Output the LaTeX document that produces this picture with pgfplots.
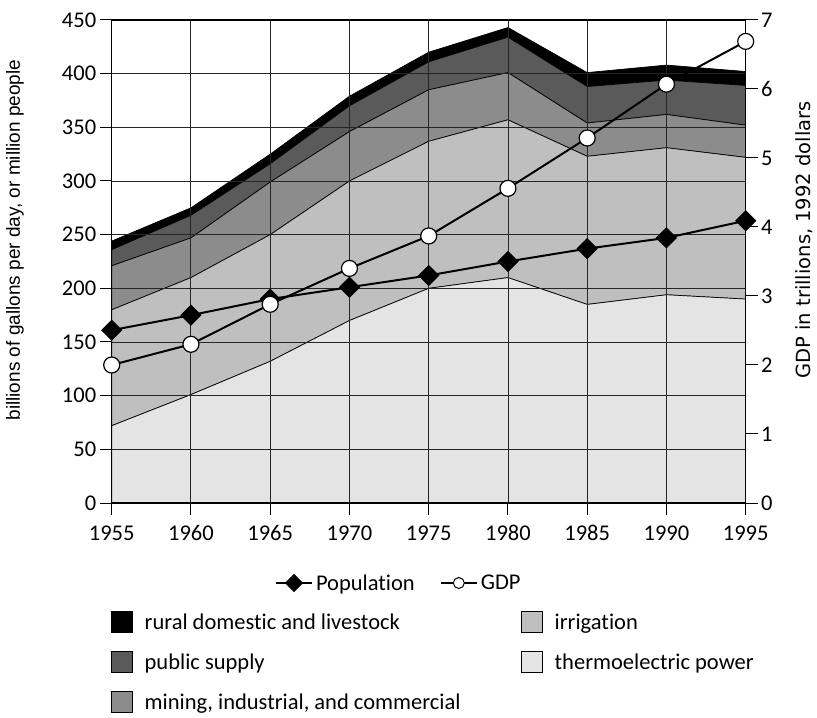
\documentclass[border=0pt]{standalone}
\usepackage{fontspec}
\setmainfont{Carlito}[Ligatures=NoCommon]
\newfontfamily\libsans{Liberation Sans}
\newfontfamily\dejavu{DejaVu Sans}
\usepackage{pgfplots}
\pgfplotsset{compat=1.18}
\definecolor{cThermo}{HTML}{E4E4E4}
\definecolor{cIrr}{HTML}{BFBFBF}
\definecolor{cMin}{HTML}{8C8C8C}
\definecolor{cPub}{HTML}{5A5A5A}
\definecolor{cRur}{HTML}{000000}
\pgfplotsset{
  base/.style={scale only axis, width=634bp, height=483bp, at={(0,0)}, anchor=south west,
    xmin=1955, xmax=1995,
    font=\fontsize{22.5bp}{27bp}\selectfont,
    /pgf/number format/assume math mode=true,
    /pgf/number format/1000 sep={},
  },
  legbox/.style={base, hide axis, ymin=0, ymax=1,
    legend cell align=left,
    legend style={draw=none, fill=none, inner sep=0pt, outer sep=0pt, row sep=0pt,
      font=\fontsize{22.5bp}{27bp}\selectfont,
      nodes={inner ysep=0pt, inner xsep=12bp, minimum height=40bp}},
    legend image code/.code={\draw[#1, line width=1bp] (0bp,-10.5bp) rectangle (21bp,10.5bp);},
  },
}
\begin{document}
\begin{tikzpicture}
\path[use as bounding box] (-111.7bp,-215bp) rectangle (705.3bp,503bp);
% stacked areas, left axis
\begin{axis}[base, ymin=0, ymax=450,
  xtick={1955,1960,...,1995}, ytick={0,50,...,450},
  tick pos=left, tick align=outside, major tick length=12bp,
  grid=major, grid style={draw=black!85, line width=0.9bp},
  axis on top,
  axis line style={line width=1.2bp},
  tick style={line width=1bp, black},
  xticklabel style={yshift=-7bp},
  stack plots=y,
  ylabel={\libsans\fontsize{19bp}{23bp}\selectfont billions of gallons per day, or million people},
  ylabel style={at={(axis description cs:-0.1525,0.5445)}, anchor=center},
]
\addplot[fill=cThermo, draw=black, line width=0.7bp] coordinates {
(1955,72) (1960,101) (1965,132) (1970,170) (1975,200) (1980,210) (1985,185) (1990,194) (1995,190)} \closedcycle;
\addplot[fill=cIrr, draw=black, line width=0.7bp] coordinates {
(1955,108) (1960,109) (1965,118) (1970,130) (1975,137) (1980,147) (1985,138) (1990,137) (1995,132)} \closedcycle;
\addplot[fill=cMin, draw=black, line width=0.7bp] coordinates {
(1955,41) (1960,37) (1965,49) (1970,46) (1975,48) (1980,44) (1985,31) (1990,31) (1995,30)} \closedcycle;
\addplot[fill=cPub, draw=black, line width=0.7bp] coordinates {
(1955,15) (1960,21) (1965,17) (1970,24) (1975,26) (1980,33) (1985,34) (1990,32) (1995,37)} \closedcycle;
\addplot[fill=cRur, draw=black, line width=0.7bp] coordinates {
(1955,8) (1960,7) (1965,9) (1970,9) (1975,9) (1980,9) (1985,13) (1990,14) (1995,13)} \closedcycle;
\end{axis}
% population, left scale
\begin{axis}[base, ymin=0, ymax=450, hide axis]
\addplot[black, line width=2bp, mark=square*, mark size=7bp, mark options={rotate=45, line width=1bp}] coordinates {
(1955,161) (1960,175) (1965,190) (1970,201) (1975,212) (1980,225) (1985,237) (1990,247) (1995,263)};
\end{axis}
% GDP, right axis
\begin{axis}[base, ymin=0, ymax=7, ytick={0,1,...,7},
  axis y line*=right, hide x axis,
  tick align=outside, major tick length=12bp,
  axis line style={line width=1.2bp},
  tick style={line width=1bp, black},
  ylabel={\dejavu\fontsize{19.5bp}{23bp}\selectfont GDP in trillions, 1992 dollars},
  ylabel style={at={(axis description cs:1.0925,0.5445)}, anchor=center},
]
\addplot[black, line width=2bp, mark=*, mark size=8bp, mark options={fill=white, line width=1.2bp}] coordinates {
(1955,2.0) (1960,2.3) (1965,2.88) (1970,3.40) (1975,3.87) (1980,4.56) (1985,5.29) (1990,6.07) (1995,6.69)};
\end{axis}
% legend: lines
\begin{axis}[legbox,
  legend columns=2,
  legend style={at={(0.2576,-0.1656)}, anchor=west,
    nodes={inner xsep=3bp},
    /tikz/every even column/.append style={column sep=22bp}},
  legend image code/.code={\draw[mark repeat=2, mark phase=2, #1] plot coordinates {(0bp,0bp) (18bp,0bp) (36bp,0bp)};},
]
\addlegendimage{black, line width=2bp, mark=square*, mark size=6bp, mark options={rotate=45, line width=1bp}}
\addlegendentry{Population}
\addlegendimage{black, line width=2bp, mark=*, mark size=5.5bp, mark options={fill=white, line width=1bp}}
\addlegendentry{GDP}
\end{axis}
% legend: areas, column 1
\begin{axis}[legbox,
  legend style={at={(-0.0016,-0.205)}, anchor=north west},
]
\addlegendimage{fill=cRur, draw=black}
\addlegendentry{rural domestic and livestock}
\addlegendimage{fill=cPub, draw=black}
\addlegendentry{public supply}
\addlegendimage{fill=cMin, draw=black}
\addlegendentry{mining, industrial, and commercial}
\end{axis}
% legend: areas, column 2
\begin{axis}[legbox,
  legend style={at={(0.6451,-0.205)}, anchor=north west},
]
\addlegendimage{fill=cIrr, draw=black}
\addlegendentry{irrigation}
\addlegendimage{fill=cThermo, draw=black}
\addlegendentry{thermoelectric power}
\end{axis}
\end{tikzpicture}
\end{document}
